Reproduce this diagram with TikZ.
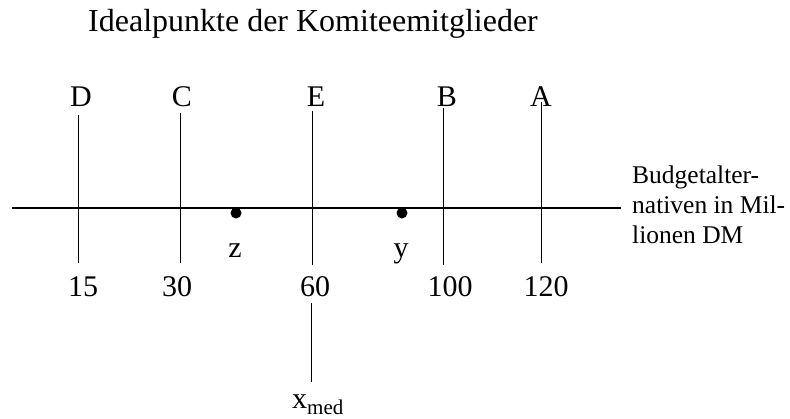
\documentclass[tikz,border=0pt]{standalone}
\usepackage{fontspec}
\setmainfont{Liberation Serif}
\begin{document}
\begin{tikzpicture}[x=1pt,y=-1pt,
  lbl/.style={font=\fontsize{30}{34}\selectfont, anchor=base, inner sep=0pt},
  side/.style={font=\fontsize{25.5}{30}\selectfont, anchor=base west, inner sep=0pt},
  tick/.style={line width=1pt},
  axis/.style={line width=2.6pt},
  dot/.style={circle, fill=black, minimum size=11pt, inner sep=0pt}]
\useasboundingbox (0,0) rectangle (790,418);
\node[font=\fontsize{32}{36}\selectfont, anchor=base west, inner sep=0pt] (title) at (88,31) {Idealpunkte der Komiteemitglieder};
% axis
\coordinate (axL) at (12,208);
\coordinate (axR) at (621,208);
\draw[axis] (axL) -- (axR);
% member ideal points
\foreach \n/\x/\t/\b/\lx/\nx/\num in {D/78/115/263/81/83/15, C/180/113/263/182/177/30, E/312/111/265/316/315/60, B/443/108/265/447/450/100, A/541/102/263/541/546/120}{
  \coordinate (\n top) at (\x,\t);
  \coordinate (\n bot) at (\x,\b);
  \draw[tick] (\n top) -- (\n bot);
  \node[lbl] (lab\n) at (\lx,106) {\n};
  \node[lbl] (num\n) at (\nx,296) {\num};
}
% points z and y
\node[dot] (dz) at (236,213) {};
\node[dot] (dy) at (402,213) {};
\node[lbl] (lz) at (235,257) {z};
\node[lbl] (ly) at (401,257) {y};
% axis caption
\node[side] (b1) at (632,183) {Budgetalter-};
\node[side] (b2) at (632,213) {nativen in Mil-};
\node[side] (b3) at (632,243) {lionen DM};
% median
\coordinate (mtop) at (311,303);
\coordinate (mbot) at (311,382);
\draw[tick] (mtop) -- (mbot);
\node[lbl] (xmed) at (318,408) {x\textsubscript{med}};
\end{tikzpicture}
\end{document}
